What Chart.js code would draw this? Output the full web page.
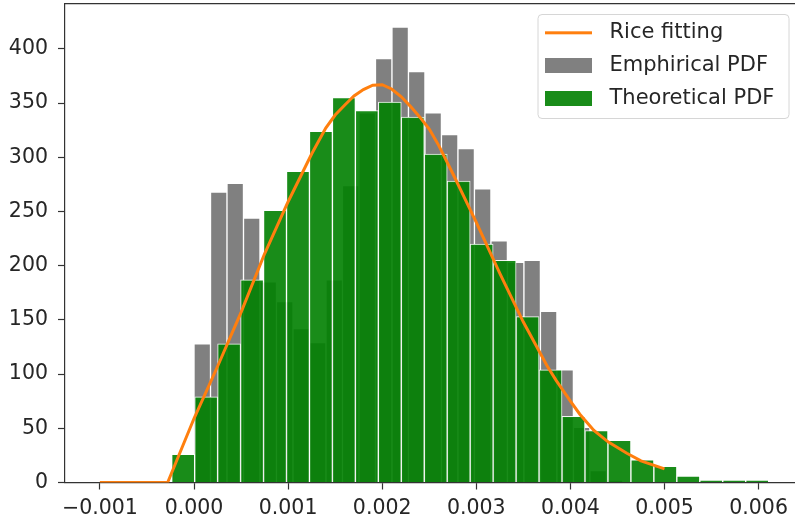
<!DOCTYPE html>
<html><head><meta charset="utf-8">
<script src="https://cdn.jsdelivr.net/npm/chart.js@4.4.0/dist/chart.umd.min.js"></script>
<style>html,body{margin:0;padding:0;background:#fff;}#wrap{width:795px;height:522px;}</style>
</head><body><div id="wrap"><canvas id="c" width="795" height="522"></canvas></div>
<script>
// Empirical histogram (gray) bin centres and counts
const grayCenters = [0.0000877,0.000263,0.0004383,0.0006136,0.0007889,0.0009642,0.0011395,0.0013148,0.0014901,0.0016654,0.0018407,0.002016,0.0021913,0.0023666,0.0025419,0.0027172,0.0028925,0.0030678,0.0032431,0.0034184,0.0035937,0.003769,0.0039443,0.0041196,0.0042949,0.0044702];
const grayCounts  = [128,268,276,244,185,167,142,129,187,274,341,391,420,379,341,321,308,271,223,203,205,158,104,51,11,2];
// Theoretical histogram (green) bin centres and counts
const greenCenters = [-0.000115,0.000129,0.000373,0.000617,0.000861,0.001105,0.001349,0.001593,0.001837,0.002081,0.002325,0.002569,0.002813,0.003057,0.003301,0.003545,0.003789,0.004033,0.004277,0.004521,0.004765,0.005009,0.005253,0.005497,0.005741,0.005985];
const greenCounts  = [26,79,128,187,251,287,324,355,343,351,337,303,278,220,205,153,104,61,48,39,21,15,6,2,2,2];
// Rice fitting curve samples
const riceX = [-0.001,-0.0005,-0.00028,0,0.00025,0.0005,0.00075,0.001,0.00125,0.0014,0.0015,0.0016,0.0017,0.0018,0.0019,0.002,0.0021,0.0022,0.0023,0.0024,0.0025,0.0026,0.00275,0.003,0.00325,0.0035,0.00375,0.00385,0.004,0.0041,0.00425,0.0044,0.0046,0.00475,0.005];
const riceY = [0,0,0,59,107,157,211,259,303,327,339,348,356.5,362.5,366.5,367,363,356,347,337,326,311,285,240,193,148,108,94,75,63,48,37.5,27,20,12.5];
// Tick labels
const xTicks = [-0.001,0,0.001,0.002,0.003,0.004,0.005,0.006];
const yTicks = [0,50,100,150,200,250,300,350,400];
const seriesLabels = ['Rice fitting','Emphirical PDF','Theoretical PDF'];

const X_MIN = -0.0013709, X_MAX = 0.0063868, Y_MAX = 441.4;
const FONT = 'DejaVu Sans';
const TXT = '#262626';
const AX = '#333333';

Chart.defaults.font.family = FONT;
Chart.defaults.color = TXT;

function patch(color, w, h, line) {
  const c = document.createElement('canvas');
  c.width = w; c.height = h;
  const g = c.getContext('2d');
  if (line) {
    g.strokeStyle = color; g.lineWidth = 3;
    g.beginPath(); g.moveTo(0, h/2); g.lineTo(w, h/2); g.stroke();
  } else {
    g.fillStyle = color; g.fillRect(0, 0, w, h);
  }
  return c;
}
const handles = [patch('#ff7f0e',47,15,true), patch('#808080',47,15,false), patch('rgba(0,128,0,0.9)',47,15,false)];

const bgAndLegend = {
  id: 'bgAndLegend',
  beforeDraw(chart) {
    const ctx = chart.ctx;
    ctx.save();
    ctx.fillStyle = '#ffffff';
    ctx.fillRect(0, 0, chart.width, chart.height);
    const x = 538, y = 14.5, w = 251, h = 104, r = 4;
    ctx.beginPath();
    ctx.moveTo(x + r, y); ctx.lineTo(x + w - r, y); ctx.arcTo(x + w, y, x + w, y + r, r);
    ctx.lineTo(x + w, y + h - r); ctx.arcTo(x + w, y + h, x + w - r, y + h, r);
    ctx.lineTo(x + r, y + h); ctx.arcTo(x, y + h, x, y + h - r, r);
    ctx.lineTo(x, y + r); ctx.arcTo(x, y, x + r, y, r);
    ctx.closePath();
    ctx.fillStyle = 'rgba(255,255,255,0.8)'; ctx.fill();
    ctx.strokeStyle = '#d6d6d6'; ctx.lineWidth = 1; ctx.stroke();
    ctx.restore();
    if (chart.legend) { chart.legend.left = 525; chart.legend.top = 10.3; }
  }
};

const tickFont = { family: FONT, size: 20.5 };
const noPad = (s) => { s.paddingTop = 0; s.paddingBottom = 0; s.paddingLeft = 0; s.paddingRight = 0; };

new Chart(document.getElementById('c'), {
  type: 'bar',
  data: {
    datasets: [
      { type: 'line', label: seriesLabels[0], xAxisID: 'x', order: 0,
        data: riceX.map((x, i) => ({ x: x, y: riceY[i] })),
        borderColor: '#ff7f0e', borderWidth: 3, pointRadius: 0, fill: false, tension: 0 },
      { type: 'bar', label: seriesLabels[1], xAxisID: 'x', order: 2, grouped: false,
        data: grayCenters.map((x, i) => ({ x: x, y: grayCounts[i] })),
        backgroundColor: '#808080', borderColor: '#ffffff', borderWidth: 1,
        barPercentage: 1, categoryPercentage: 1 },
      { type: 'bar', label: seriesLabels[2], xAxisID: 'xg', order: 1, grouped: false,
        data: greenCenters.map((x, i) => ({ x: x, y: greenCounts[i] })),
        backgroundColor: 'rgba(0,128,0,0.9)', borderColor: 'rgba(255,255,255,0.9)', borderWidth: 1,
        barPercentage: 1, categoryPercentage: 1 }
    ]
  },
  options: {
    responsive: false, animation: false, devicePixelRatio: 1,
    layout: { padding: 0 },
    plugins: {
      tooltip: { enabled: false },
      legend: {
        position: 'chartArea', align: 'start',
        labels: {
          usePointStyle: true, pointStyleWidth: 62, boxHeight: 15, padding: 12,
          font: { family: FONT, size: 21 }, color: TXT,
          generateLabels: (chart) => [0, 1, 2].map(i => ({
            text: chart.data.datasets[i].label, datasetIndex: i, pointStyle: handles[i],
            fillStyle: 'rgba(0,0,0,0)', strokeStyle: 'rgba(0,0,0,0)', lineWidth: 0,
            fontColor: TXT, hidden: false
          }))
        }
      }
    },
    scales: {
      x: {
        type: 'linear', position: 'bottom', min: X_MIN, max: X_MAX, offset: false,
        afterBuildTicks: (s) => { s.ticks = xTicks.map(v => ({ value: v })); },
        afterFit: (s) => { s.height = 39.5; noPad(s); },
        grid: { display: true, offset: false, drawOnChartArea: false, drawTicks: true, tickLength: 7, tickWidth: 1.2, tickColor: AX },
        border: { display: true, color: AX, width: 1.2 },
        ticks: { font: tickFont, color: TXT, padding: 7, maxRotation: 0, autoSkip: false,
          callback: (v) => (v < 0 ? '\u2212' + Math.abs(v).toFixed(3) : Math.abs(v).toFixed(3)) }
      },
      xg: { type: 'linear', display: false, offset: false, grid: { offset: false }, min: X_MIN, max: X_MAX },
      xt: {
        type: 'linear', position: 'top', min: X_MIN, max: X_MAX, offset: false,
        afterFit: (s) => { s.height = 4; noPad(s); },
        grid: { display: false, offset: false }, ticks: { display: false },
        border: { display: true, color: AX, width: 1.2 }
      },
      y: {
        type: 'linear', position: 'left', min: 0, max: Y_MAX,
        afterBuildTicks: (s) => { s.ticks = yTicks.map(v => ({ value: v })); },
        afterFit: (s) => { s.width = 65; noPad(s); },
        grid: { display: true, drawOnChartArea: false, drawTicks: true, tickLength: 7, tickWidth: 1.2, tickColor: AX },
        border: { display: true, color: AX, width: 1.2 },
        ticks: { font: tickFont, color: TXT, padding: 10, callback: (v) => String(v) }
      }
    }
  },
  plugins: [bgAndLegend]
});
</script>
</body></html>
